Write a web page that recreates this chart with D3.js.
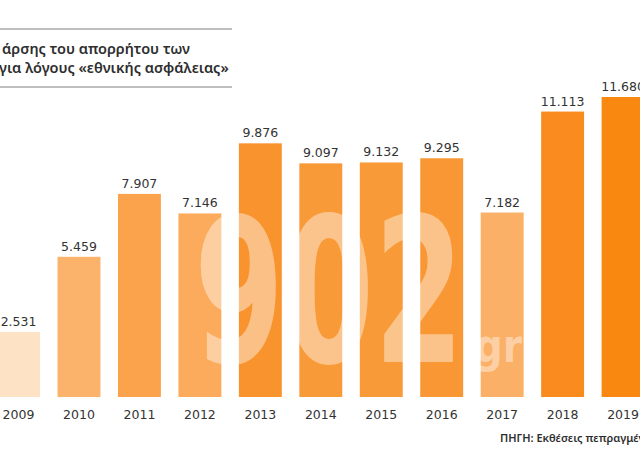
<!DOCTYPE html>
<html>
<head>
<meta charset="utf-8">
<script src="https://cdn.jsdelivr.net/npm/d3@7"></script>
<style>
  html, body { margin: 0; padding: 0; background: #fff; }
  svg { display: block; }
</style>
</head>
<body>
<svg id="chart" width="640" height="460"></svg>
<script>
// ---- data ----
const years = ["2009","2010","2011","2012","2013","2014","2015","2016","2017","2018","2019"];
const requests = [2531, 5459, 7907, 7146, 9876, 9097, 9132, 9295, 7182, 11113, 11680];
const barColors = ["#fde2c6","#fbb26a","#fba34c","#fbab5b","#f8932d","#f99a39","#f99a38","#f99735","#fbb067","#f98b1f","#f8880f"];
const titleLines = ["άρσης του απορρήτου των", "για λόγους «εθνικής ασφάλειας»"];
const sourceText = "ΠΗΓΗ: Εκθέσεις πεπραγμένων";
const watermarkMain = "902";
const watermarkSub = ".gr";

const svg = d3.select("#chart");

const x = d3.scaleBand().domain(years).range([-11.7, 653.3]).paddingInner(0.29).paddingOuter(0.145);
const y = d3.scaleLinear().domain([0, 11680]).range([397, 97]);

const locale = d3.formatLocale({decimal: ",", thousands: ".", grouping: [3], currency: ["", "€"]});
const fmt = locale.format(",d");

const data = years.map((yr, i) => ({year: yr, value: requests[i], color: barColors[i]}));

// title box
svg.append("line").attr("x1", 0).attr("x2", 232).attr("y1", 29).attr("y2", 29)
  .attr("stroke", "#a9a9a9").attr("stroke-width", 1.5);
svg.append("line").attr("x1", 0).attr("x2", 232).attr("y1", 87).attr("y2", 87)
  .attr("stroke", "#a9a9a9").attr("stroke-width", 1.5);
svg.append("text").attr("x", 2).attr("y", 54)
  .attr("font-family", "'Noto Sans', sans-serif").attr("font-size", 14.5).attr("font-weight", 600)
  .attr("fill", "#2e2e2e").text(titleLines[0]);
svg.append("text").attr("x", -1).attr("y", 73)
  .attr("font-family", "'Noto Sans', sans-serif").attr("font-size", 14.5).attr("font-weight", 600)
  .attr("fill", "#2e2e2e").text(titleLines[1]);

// bars
svg.append("g").selectAll("rect").data(data).join("rect")
  .attr("x", d => x(d.year))
  .attr("y", d => y(d.value))
  .attr("width", x.bandwidth())
  .attr("height", d => y(0) - y(d.value))
  .attr("fill", d => d.color);

// watermark (drawn over bars, under labels)
svg.append("text").attr("x", 194).attr("y", 362)
  .attr("font-family", "'DejaVu Sans', sans-serif").attr("font-weight", "bold")
  .attr("font-size", 202).attr("textLength", 270).attr("lengthAdjust", "spacingAndGlyphs")
  .attr("fill", "#ffffff").attr("fill-opacity", 0.42).text(watermarkMain);
svg.append("text").attr("x", 460).attr("y", 362)
  .attr("font-family", "'DejaVu Sans', sans-serif").attr("font-weight", "bold")
  .attr("font-size", 46).attr("textLength", 62).attr("lengthAdjust", "spacingAndGlyphs")
  .attr("fill", "#ffffff").attr("fill-opacity", 0.42).text(watermarkSub);

// value labels
svg.append("g").selectAll("text").data(data).join("text")
  .attr("x", d => x(d.year) + x.bandwidth() / 2)
  .attr("y", d => y(d.value) - 6)
  .attr("text-anchor", "middle")
  .attr("font-family", "'DejaVu Sans', sans-serif").attr("font-size", 12.5)
  .attr("fill", "#333").text(d => fmt(d.value));

// year axis labels
const xAxis = d3.axisBottom(x).tickSize(0).tickPadding(0);
const gx = svg.append("g").attr("transform", "translate(0,410)").call(xAxis);
gx.select(".domain").remove();
gx.selectAll("text").attr("font-family", "'DejaVu Sans', sans-serif").attr("font-size", 12.5)
  .attr("fill", "#333");

// source
svg.append("text").attr("x", 500).attr("y", 442)
  .attr("font-family", "'Noto Sans', sans-serif").attr("font-size", 11).attr("font-weight", 600)
  .attr("fill", "#2e2e2e").text(sourceText);
</script>
</body>
</html>
